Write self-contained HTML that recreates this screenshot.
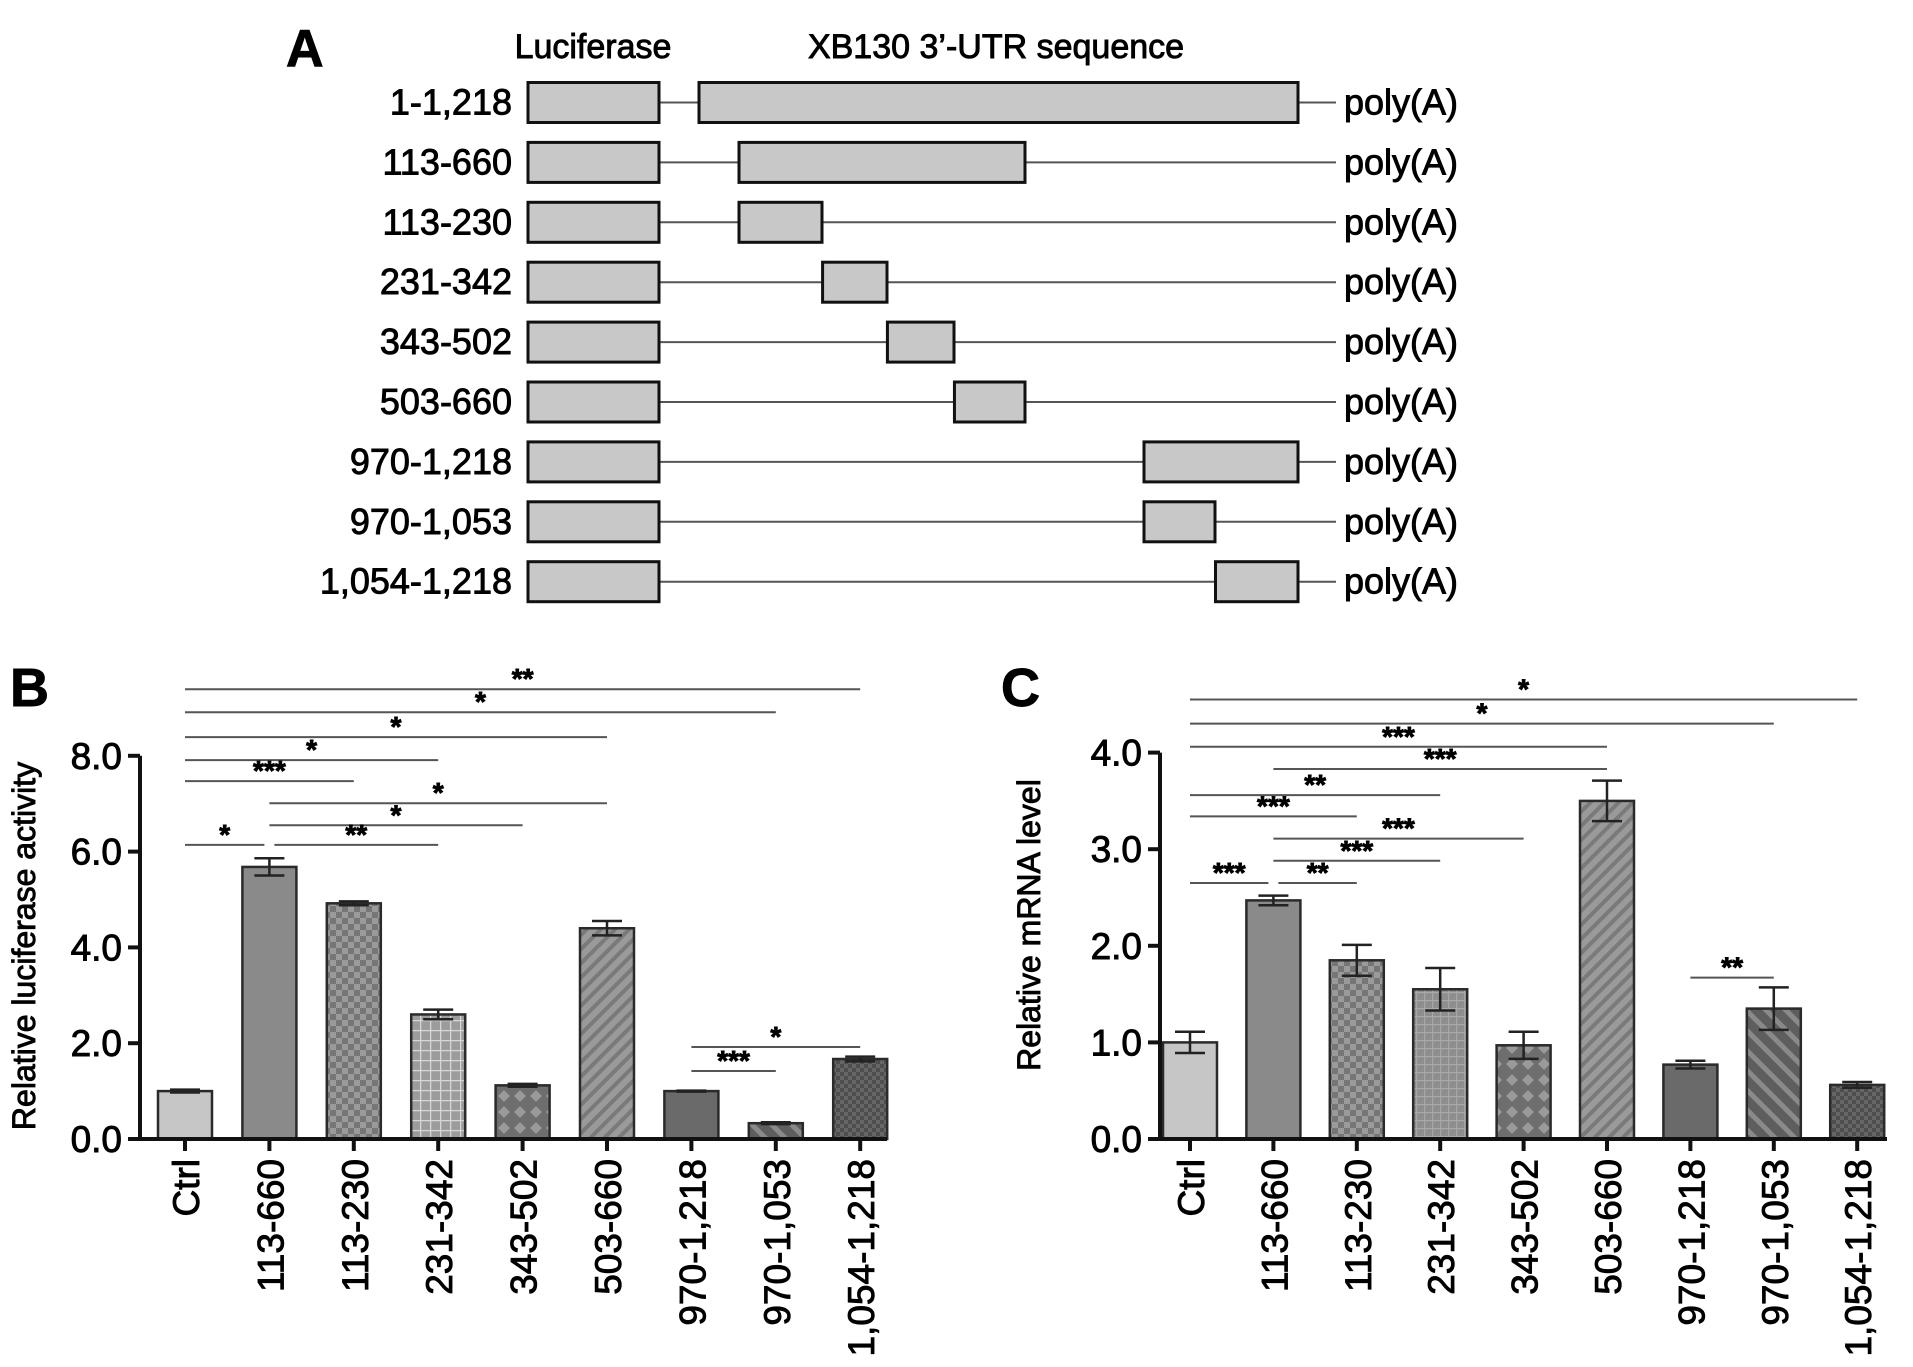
<!DOCTYPE html>
<html><head><meta charset="utf-8"><style>
html,body{margin:0;padding:0;background:#fff;}
svg{display:block;font-family:"Liberation Sans",Arial,sans-serif;}
svg text{stroke:#000;stroke-width:0.9px;fill:#000;}
</style></head><body>
<svg id="fig" width="1913" height="1367" viewBox="0 0 1913 1367" xmlns="http://www.w3.org/2000/svg">
<defs>
<pattern id="p-check" width="12" height="12" patternUnits="userSpaceOnUse"><rect width="12" height="12" fill="#9a9a9a"/><rect width="6" height="6" fill="#767676"/><rect x="6" y="6" width="6" height="6" fill="#767676"/></pattern>
<pattern id="p-grid" width="10" height="10" patternUnits="userSpaceOnUse"><rect width="10" height="10" fill="#9c9c9c"/><path d="M0 0.5H10M0.5 0V10" stroke="#d8d8d8" stroke-width="1.5"/></pattern>
<pattern id="p-grid-b" width="8" height="8" patternUnits="userSpaceOnUse"><rect width="8" height="8" fill="#8e8e8e"/><path d="M0 0.5H8M0.5 0V8" stroke="#a8a8a8" stroke-width="1.5"/></pattern>
<pattern id="p-diam" width="16" height="16" patternUnits="userSpaceOnUse"><rect width="16" height="16" fill="#6e6e6e"/><path d="M8 2L14 8L8 14L2 8Z" fill="#9a9a9a"/></pattern>
<pattern id="p-diag" width="10" height="10" patternUnits="userSpaceOnUse" patternTransform="rotate(45)"><rect width="10" height="10" fill="#9a9a9a"/><rect width="4" height="10" fill="#7a7a7a"/></pattern>
<pattern id="p-diag2" width="14" height="14" patternUnits="userSpaceOnUse" patternTransform="rotate(-45)"><rect width="14" height="14" fill="#5e5e5e"/><rect width="5" height="14" fill="#8a8a8a"/></pattern>
<pattern id="p-dcheck" width="8" height="8" patternUnits="userSpaceOnUse"><rect width="8" height="8" fill="#666"/><rect width="4" height="4" fill="#4e4e4e"/><rect x="4" y="4" width="4" height="4" fill="#4e4e4e"/></pattern>
</defs>
<g id="panelA"></g>
<g id="panelB"></g>
<g id="panelC"></g>
</svg>
<script>
// ---------- Panel A data ----------
const constructLabels = ["1-1,218","113-660","113-230","231-342","343-502","503-660","970-1,218","970-1,053","1,054-1,218"];
const fragStart = [1,113,113,231,343,503,970,970,1054];
const fragEnd = [1218,660,230,342,502,660,1218,1053,1218];
// schematic scale breakpoints (nucleotide positions)
const scaleNt = [1,113,230,342,502,660,970,1053,1218];

// ---------- Panel B data ----------
const categories = ["Ctrl","113-660","113-230","231-342","343-502","503-660","970-1,218","970-1,053","1,054-1,218"];
const lucValues = [1.0,5.68,4.92,2.6,1.12,4.4,1.0,0.33,1.67];
const lucErrors = [0.03,0.18,0.04,0.1,0.03,0.15,0.01,0.02,0.05];
const lucTicks = [0,2,4,6,8];
const lucTickLabels = ["0.0","2.0","4.0","6.0","8.0"];
const lucSigFrom = [0,0,0,0,0,1,1,1,0,6,6];
const lucSigTo = [8,7,5,3,2,5,4,3,1,8,7];
const lucSigLevel = [9.39,8.91,8.39,7.91,7.47,7.01,6.55,6.14,6.14,1.92,1.42];
const lucSigText = ["**","*","*","*","***","*","*","**","*","*","***"];

// ---------- Panel C data ----------
const mrnaValues = [1.0,2.47,1.85,1.55,0.97,3.5,0.77,1.35,0.56];
const mrnaErrors = [0.11,0.05,0.16,0.22,0.14,0.21,0.04,0.22,0.03];
const mrnaTicks = [0,1,2,3,4];
const mrnaTickLabels = ["0.0","1.0","2.0","3.0","4.0"];
const mrnaSigFrom = [0,0,0,1,0,0,1,1,0,1,6];
const mrnaSigTo = [8,7,5,5,3,2,4,3,1,2,7];
const mrnaSigLevel = [4.55,4.30,4.06,3.83,3.56,3.34,3.11,2.88,2.65,2.65,1.67];
const mrnaSigText = ["*","*","***","***","**","***","***","***","***","**","**"];

const fills = ["#c6c6c6","#8a8a8a","url(#p-check)","url(#p-grid)","url(#p-diam)","url(#p-diag)","#6a6a6a","url(#p-diag2)","url(#p-dcheck)"];
const fillsB = ["#c6c6c6","#8a8a8a","url(#p-check)","url(#p-grid-b)","url(#p-diam)","url(#p-diag)","#6a6a6a","url(#p-diag2)","url(#p-dcheck)"];

const NS="http://www.w3.org/2000/svg";
function mk(parent,tag,attrs,text){const e=document.createElementNS(NS,tag);for(const k in attrs)e.setAttribute(k,attrs[k]);if(text!==undefined)e.textContent=text;parent.appendChild(e);return e;}

// ---------- Panel A ----------
(function(){
const g=document.getElementById('panelA');
const scalePx=[699,739,822,887,954,1025,1144,1215,1298];
function xNt(p){for(let i=0;i<scaleNt.length-1;i++){if(p<=scaleNt[i+1]){const t=(p-scaleNt[i])/(scaleNt[i+1]-scaleNt[i]);return scalePx[i]+t*(scalePx[i+1]-scalePx[i]);}}return scalePx[scalePx.length-1];}
let t=mk(g,'text',{x:286,y:66,'font-size':52,'font-weight':'bold'},'A');


t=mk(g,'text',{x:593,y:58,'font-size':34,'text-anchor':'middle'},'Luciferase');


t=mk(g,'text',{x:996,y:58,'font-size':34,'text-anchor':'middle'},'XB130 3\u2019-UTR sequence');


constructLabels.forEach((lab,i)=>{
 const cy=102.5+i*59.9;
 const row=mk(g,'g',{});
 
 
 mk(row,'line',{x1:659,x2:1336,y1:cy,y2:cy,stroke:'#555','stroke-width':2});
 mk(row,'rect',{x:528,y:cy-20,width:131,height:40,fill:'#c8c8c8',stroke:'#111','stroke-width':3});
 const x1=xNt(fragStart[i]),x2=xNt(fragEnd[i]);
 const r=mk(row,'rect',{x:x1,y:cy-20,width:x2-x1,height:40,fill:'#c8c8c8',stroke:'#111','stroke-width':3});
 
 
 const l=mk(row,'text',{x:512,y:cy+12,'font-size':36,'text-anchor':'end'},lab);
 
 
 const p=mk(row,'text',{x:1344,y:cy+12,'font-size':36},'poly(A)');
 
 
});
})();

// ---------- bar chart builder ----------
function barChart(opt){
 const g=document.getElementById(opt.id);
 const yS=v=>opt.y0-v*opt.unit;
 const xS=i=>opt.x0+i*opt.step;
 let t=mk(g,'text',{x:opt.letterX,y:706,'font-size':54,'font-weight':'bold'},opt.letter);
 
 
 opt.values.forEach((v,i)=>{
  const b=mk(g,'rect',{x:xS(i)-27,y:yS(v),width:54,height:opt.y0-yS(v),fill:opt.fills[i],stroke:'#2a2a2a','stroke-width':2.5});
  
  
  const e=opt.errors[i];
  const eg=mk(g,'path',{d:`M${xS(i)} ${yS(v+e)}V${yS(v-e)}M${xS(i)-15} ${yS(v+e)}H${xS(i)+15}M${xS(i)-15} ${yS(v-e)}H${xS(i)+15}`,stroke:'#222','stroke-width':2.5,fill:'none'});
  
  
 });
 const ax=mk(g,'path',{d:`M${opt.axisX} ${yS(opt.ticks[opt.ticks.length-1])}V${opt.y0}H${opt.axisEnd}`,stroke:'#111','stroke-width':4,fill:'none'});
 
 
 opt.ticks.forEach((tv,i)=>{
  mk(g,'line',{x1:opt.axisX-12,x2:opt.axisX,y1:yS(tv),y2:yS(tv),stroke:'#111','stroke-width':4});
  const tl=mk(g,'text',{x:opt.axisX-18,y:yS(tv)+13,'font-size':37,'text-anchor':'end'},opt.tickLabels[i]);
  
  
 });
 categories.forEach((c,i)=>{
  mk(g,'line',{x1:xS(i),x2:xS(i),y1:opt.y0,y2:opt.y0+12,stroke:'#111','stroke-width':4});
  const cl=mk(g,'text',{x:0,y:0,'font-size':37,'text-anchor':'end',transform:`translate(${xS(i)+14},${opt.y0+20}) rotate(-90)`},c);
  
  
 });
 const yt=mk(g,'text',{x:0,y:0,'font-size':32,'text-anchor':'middle',transform:`translate(${opt.titleX},${opt.titleY}) rotate(-90)`},opt.title);
 
 
 opt.sigFrom.forEach((f,k)=>{
  const y=yS(opt.sigLevel[k]);
  const x1=xS(f)+(f>0&&opt.sigFrom.filter((ff,j)=>opt.sigTo[j]===f&&opt.sigLevel[j]===opt.sigLevel[k]).length?5:0);
  const x2=xS(opt.sigTo[k])-(opt.sigFrom.some((ff,j)=>ff===opt.sigTo[k]&&opt.sigLevel[j]===opt.sigLevel[k])?5:0);
  const sl=mk(g,'line',{x1:x1,x2:x2,y1:y,y2:y,stroke:'#555','stroke-width':2});
  
  
  const st=mk(g,'text',{x:(x1+x2)/2,y:y-1,'font-size':28,'font-weight':'bold','text-anchor':'middle'},opt.sigText[k]);
  
  
 });
}
barChart({id:'panelB',letter:'B',letterX:10,values:lucValues,errors:lucErrors,ticks:lucTicks,tickLabels:lucTickLabels,
 sigFrom:lucSigFrom,sigTo:lucSigTo,sigLevel:lucSigLevel,sigText:lucSigText,fills:fills,
 y0:1139,unit:47.9,x0:185,step:84.4,axisX:140,axisEnd:887,title:'Relative luciferase activity',titleX:35,titleY:946});
barChart({id:'panelC',letter:'C',letterX:1001,values:mrnaValues,errors:mrnaErrors,ticks:mrnaTicks,tickLabels:mrnaTickLabels,
 sigFrom:mrnaSigFrom,sigTo:mrnaSigTo,sigLevel:mrnaSigLevel,sigText:mrnaSigText,fills:fillsB,
 y0:1139,unit:96.6,x0:1190,step:83.4,axisX:1160,axisEnd:1887,title:'Relative mRNA level',titleX:1040,titleY:925});
</script>
</body></html>
